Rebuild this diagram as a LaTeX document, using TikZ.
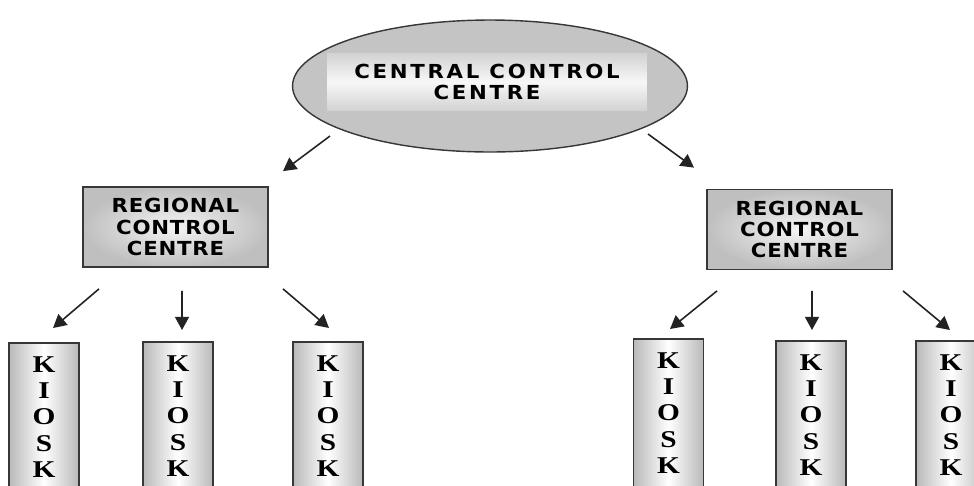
\documentclass[tikz,border=0pt]{standalone}
\usepackage{fontspec}
\usetikzlibrary{arrows.meta, shapes.geometric, calc}
\newfontfamily\boxfont{DejaVu Sans}[FakeStretch=1.1, LetterSpace=4]
\newfontfamily\bannerfont{DejaVu Sans}[FakeStretch=1.1, LetterSpace=14]
\newfontfamily\kioskfont{Liberation Serif}[FakeStretch=1.22]
\definecolor{edgegray}{RGB}{55,55,55}
\definecolor{ovalgray}{RGB}{196,196,196}
\definecolor{arrowgray}{RGB}{35,35,35}
\tikzset{
  centre/.style={ellipse, draw=edgegray, line width=0.8pt, fill=ovalgray,
                 minimum width=7.9cm, minimum height=2.64cm, inner sep=0pt},
  banner/.style={rectangle, inner sep=0pt, minimum width=6.4cm,
                 minimum height=1.14cm, top color=gray!35, bottom color=gray!35,
                 middle color=gray!6, align=center,
                 font=\bannerfont\bfseries\fontsize{11}{12.4}\selectfont},
  region/.style={rectangle, draw=edgegray, line width=1pt, minimum width=3.7cm,
                 minimum height=1.6cm, inner color=gray!8, outer color=gray!50,
                 align=center, font=\boxfont\bfseries\fontsize{11}{12.2}\selectfont},
  kiosk/.style={rectangle, draw=edgegray, line width=1pt, minimum width=1.4cm,
                inner xsep=0pt, inner ysep=7.6pt, left color=gray!55,
                right color=gray!55, middle color=white, align=center,
                anchor=north, font=\kioskfont\bfseries\fontsize{13.7}{15}\selectfont},
  flow/.style={draw=arrowgray, line width=0.9pt,
               -{Triangle[length=7.5pt,width=8pt]}}
}

\begin{document}
\begin{tikzpicture}[x=0.02cm, y=-0.02cm]
    \useasboundingbox (0,0) rectangle (974,485);
    \clip (0,0) rectangle (974,485);

    % top
    \node[centre] (ccc) at (490,86) {};
    \node[banner] (cccText) at (487,82) {CENTRAL CONTROL\\CENTRE};

    % regional centres
    \node[region] (rcc1) at (175.5,227) {REGIONAL\\CONTROL\\CENTRE};
    \node[region] (rcc2) at (799.5,229.5) {REGIONAL\\CONTROL\\CENTRE};

    % kiosks
    \node[kiosk] (k11) at (44,342)    {K\\I\\O\\S\\K};
    \node[kiosk] (k12) at (178,341)   {K\\I\\O\\S\\K};
    \node[kiosk] (k13) at (328,341)   {K\\I\\O\\S\\K};
    \node[kiosk] (k21) at (668.5,338) {K\\I\\O\\S\\K};
    \node[kiosk] (k22) at (811,340)   {K\\I\\O\\S\\K};
    \node[kiosk] (k23) at (951,340)   {K\\I\\O\\S\\K};

    % arrows
    \draw[flow] ($(ccc)+(-160,50)$) -- ($(rcc1.north)+(107.5,-15)$);
    \draw[flow] ($(ccc)+(158,48)$) -- ($(rcc2.north)+(-105.5,-21)$);

    \draw[flow] ($(rcc1.south)+(-76.5,21)$) -- ($(k11.north)+(9,-14)$);
    \draw[flow] ($(rcc1.south)+(6.5,23)$) -- ($(k12.north)+(4,-11)$);
    \draw[flow] ($(rcc1.south)+(107.5,21)$) -- ($(k13.north)+(1,-13)$);

    \draw[flow] ($(rcc2.south)+(-82.5,20.5)$) -- ($(k21.north)+(1.5,-9)$);
    \draw[flow] ($(rcc2.south)+(12.5,20.5)$) -- ($(k22.north)+(1,-10)$);
    \draw[flow] ($(rcc2.south)+(103.5,20.5)$) -- ($(k23.north)+(-1,-10)$);
\end{tikzpicture}
\end{document}
